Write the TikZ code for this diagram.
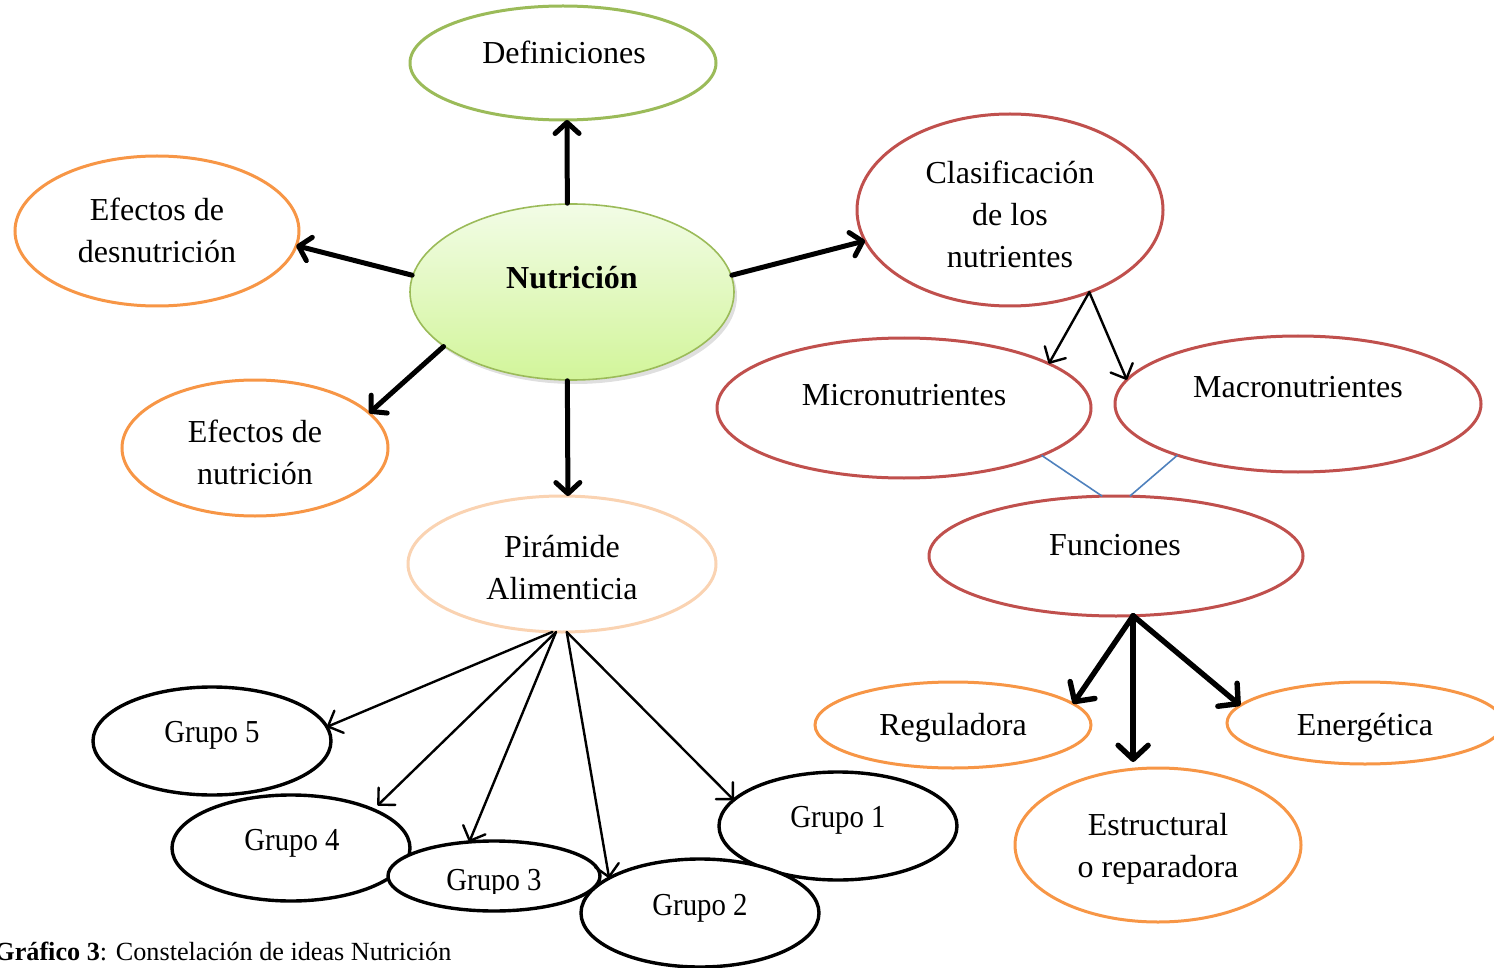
\documentclass[tikz,border=0pt]{standalone}
\usepackage{fontspec}
\setmainfont{Liberation Serif}
\newfontfamily\narrowserif[FakeStretch=0.9]{Liberation Serif}
\usetikzlibrary{arrows.meta,shapes.geometric,shadows,calc}
\definecolor{ogreen}{HTML}{9BBB59}
\definecolor{ored}{HTML}{C0504D}
\definecolor{oorange}{HTML}{F79646}
\definecolor{opeach}{HTML}{FAD3B2}
\definecolor{oblue}{HTML}{4F81BD}
\definecolor{nuttop}{HTML}{F2FCE6}
\definecolor{nutbot}{HTML}{D2F59A}
\begin{document}
\begin{tikzpicture}[x=0.5pt,y=-0.5pt,
  oval/.style={ellipse,draw,line width=1.5pt,fill=white,inner sep=0pt,outer sep=0pt},
  greenoval/.style={oval,draw=ogreen},
  redoval/.style={oval,draw=ored},
  orangeoval/.style={oval,draw=oorange},
  peachoval/.style={oval,draw=opeach},
  groupoval/.style={oval,draw=black,line width=1.7pt},
  lbl/.style={font=\fontsize{16}{21}\selectfont,align=center,inner sep=0pt},
  grouplbl/.style={font=\narrowserif\fontsize{16}{21}\selectfont,inner sep=0pt,anchor=base},
  bigarrow/.style={line width=2.5pt,line cap=round,
    -{Straight Barb[round,length=5.5pt,width=12pt]}},
  hugearrow/.style={line width=2.7pt,line cap=round,
    -{Straight Barb[round,length=7pt,width=15pt]}},
  thinarrow/.style={line width=1.2pt,line cap=round,
    -{Straight Barb[round,length=6pt,width=12pt]}},
  link/.style={draw=oblue,line width=0.8pt}
]
\useasboundingbox (0,0) rectangle (1494,968);

% central concept
\node[ellipse,draw=ogreen,line width=0.8pt,inner sep=0pt,
  minimum width=162pt,minimum height=88pt,
  top color=nuttop,bottom color=nutbot,
  drop shadow={shadow xshift=1.5pt,shadow yshift=-2pt,opacity=0.25}] (nut) at (572,292) {};
\node[lbl,anchor=base,font=\bfseries\fontsize{16}{21}\selectfont] (tnut) at (572,289) {Nutrición};

% first ring
\node[greenoval,minimum width=153pt,minimum height=57pt] (def) at (563,63) {};
\node[lbl,anchor=base] (tdef) at (564,64) {Definiciones};

\node[redoval,minimum width=153pt,minimum height=96pt] (cla) at (1010,210) {};
\node[lbl] (tcla) at (1010,214) {Clasificación\\de los\\nutrientes};

\node[orangeoval,minimum width=142pt,minimum height=75pt] (des) at (157,231) {};
\node[lbl] (tdes) at (157,230) {Efectos de\\desnutrición};

\node[orangeoval,minimum width=133pt,minimum height=68pt] (efn) at (255,448) {};
\node[lbl] (tefn) at (255,452) {Efectos de\\nutrición};

\node[peachoval,minimum width=154pt,minimum height=68pt] (pir) at (562,564) {};
\node[lbl] (tpir) at (562,568) {Pirámide\\Alimenticia};

% nutrients branch
\node[redoval,minimum width=187pt,minimum height=70pt] (mic) at (904,408) {};
\node[lbl,anchor=base] (tmic) at (904,405) {Micronutrientes};

\node[redoval,minimum width=183pt,minimum height=68pt] (mac) at (1298,404) {};
\node[lbl,anchor=base] (tmac) at (1298,397) {Macronutrientes};

\node[redoval,minimum width=187pt,minimum height=60pt] (fun) at (1116,556) {};
\node[lbl,anchor=base] (tfun) at (1115,555) {Funciones};

\node[orangeoval,minimum width=138pt,minimum height=43pt] (reg) at (953,725) {};
\node[lbl,anchor=base] (treg) at (953,735) {Reguladora};

\node[orangeoval,minimum width=138pt,minimum height=41pt] (ene) at (1365,723) {};
\node[lbl,anchor=base] (tene) at (1365,735) {Energética};

\node[orangeoval,minimum width=143pt,minimum height=77pt] (est) at (1158,845) {};
\node[lbl] (test) at (1158,849) {Estructural\\o reparadora};

% food groups
\node[groupoval,minimum width=119pt,minimum height=54pt] (g5) at (212,741) {};
\node[grouplbl] (tg5) at (212,742) {Grupo 5};

\node[groupoval,minimum width=119pt,minimum height=53pt] (g4) at (291,848) {};
\node[grouplbl] (tg4) at (292,850) {Grupo 4};

\node[groupoval,minimum width=106pt,minimum height=35pt] (g3) at (494,876) {};
\begin{scope}
  \clip (390,850) rectangle (600,893);
  \node[grouplbl] (tg3) at (494,890) {Grupo 3};
\end{scope}

\node[groupoval,minimum width=119pt,minimum height=54pt] (g1) at (838,826) {};
\node[grouplbl] (tg1) at (838,827) {Grupo 1};

\node[groupoval,minimum width=119pt,minimum height=54pt] (g2) at (700,913) {};
\node[grouplbl] (tg2) at (700,915) {Grupo 2};

% connectors from the central concept
\draw[bigarrow] (nut.93.3) -- (def.-86);
\draw[bigarrow] (nut.174) -- (des.-6);
\draw[bigarrow] (nut.6) -- (cla.192);
\draw[bigarrow] (nut.203) -- (efn.17);
\draw[bigarrow] (nut.-93.3) -- (pir.85.8);

% nutrient classification
\draw[thinarrow] (cla.-46) -- (mic.17);
\draw[thinarrow] (cla.-46) -- (mac.172);
\draw[link] (mic.-19) -- (fun.103);
\draw[link] (mac.203) -- (fun.77);

% functions
\draw[hugearrow] (fun.-74) -- (reg.10);
\draw[hugearrow,shorten >=3pt] (fun.-74) -- (fun.-74 |- est.north);
\draw[hugearrow] (fun.-74) -- (ene.172);

% food pyramid groups
\draw[thinarrow] (pir.-98) -- (g5.7);
\draw[thinarrow,shorten >=3pt] (pir.-95.5) -- (g4.25);
\draw[thinarrow] (pir.-95.5) -- (g3.126);
\draw[thinarrow] (pir.-86) -- (g2.159);
\draw[thinarrow] (pir.-86) -- (g1.166);

% caption
\node[anchor=base west,inner sep=0pt,font=\fontsize{13.1}{16}\selectfont] (cap) at (-6,960)
  {\textbf{Gráfico 3}: Constelación de ideas Nutrición};
\end{tikzpicture}
\end{document}
